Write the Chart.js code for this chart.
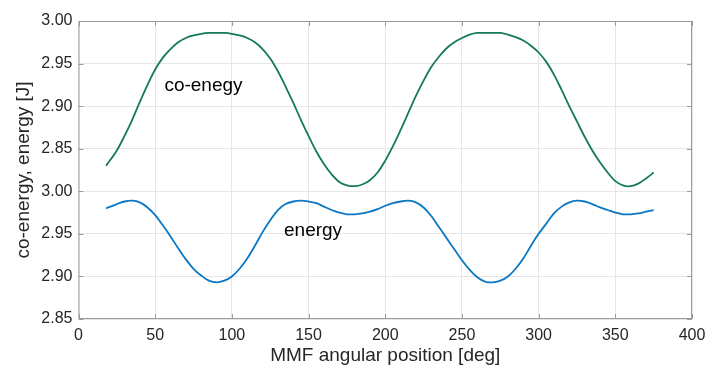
<!DOCTYPE html>
<html>
<head>
<meta charset="utf-8">
<script src="https://cdn.jsdelivr.net/npm/chart.js@4"></script>
<style>
  html, body { margin: 0; padding: 0; background: #fff; }
  #wrap { width: 707px; height: 367px; }
</style>
</head>
<body>
<div id="wrap"><canvas id="energyChart"></canvas></div>
<script>
// MMF angular position [deg]
const angles = [18, 25, 30, 35, 40, 45, 50, 55, 60, 65, 70, 75, 80, 85, 90, 95, 100, 105, 110,
  115, 120, 125, 130, 135, 140, 145, 150, 155, 160, 165, 170, 175, 180, 185, 190, 195, 200, 205, 210,
  215, 220, 225, 230, 235, 240, 245, 250, 255, 260, 265, 270, 275, 280, 285, 290, 295, 300, 305, 310,
  315, 320, 325, 330, 335, 340, 345, 350, 355, 360, 365, 370, 375];

// co-energy [J] (upper band of the axis)
const coEnergy = [2.830, 2.848, 2.865, 2.884, 2.905, 2.925, 2.943, 2.957, 2.967, 2.975, 2.980, 2.983, 2.985, 2.986, 2.986, 2.986, 2.985, 2.983, 2.980,
  2.975, 2.967, 2.956, 2.941, 2.923, 2.904, 2.884, 2.865, 2.847, 2.832, 2.820, 2.811, 2.807, 2.806, 2.808, 2.813, 2.822, 2.836, 2.853, 2.872,
  2.892, 2.912, 2.930, 2.946, 2.958, 2.968, 2.975, 2.980, 2.984, 2.986, 2.986, 2.986, 2.986, 2.984, 2.981, 2.977, 2.971, 2.963, 2.952, 2.937,
  2.919, 2.900, 2.882, 2.864, 2.848, 2.834, 2.822, 2.812, 2.807, 2.806, 2.809, 2.815, 2.822];

// energy [J] (lower band of the axis)
const energy = [2.980, 2.985, 2.988, 2.989, 2.987, 2.981, 2.972, 2.960, 2.947, 2.933, 2.920, 2.909, 2.901, 2.895, 2.893, 2.895, 2.900, 2.909, 2.921,
  2.936, 2.952, 2.966, 2.978, 2.985, 2.988, 2.989, 2.988, 2.986, 2.982, 2.978, 2.975, 2.973, 2.973, 2.974, 2.976, 2.979, 2.983, 2.986, 2.988,
  2.989, 2.987, 2.981, 2.971, 2.958, 2.945, 2.932, 2.919, 2.908, 2.899, 2.894, 2.893, 2.895, 2.900, 2.909, 2.921, 2.936, 2.950, 2.962, 2.974,
  2.982, 2.987, 2.989, 2.988, 2.985, 2.981, 2.978, 2.975, 2.973, 2.973, 2.974, 2.976, 2.978];

// y tick labels from bottom to top (energy band, then co-energy band)
const yTickLabels = ['2.85', '2.90', '2.95', '3.00', '2.85', '2.90', '2.95', '3.00'];

// in-plot text labels
const noteTexts = ['co-enegy', 'energy'];
const noteAngles = [56, 134];
const noteValues = [2.9235, 2.9535]; // co-energy band, energy band

// each band: value -> axis position
const bandBase = 2.85;
const bandStep = 0.05;
const coEnergyOffset = 4;

function toAxis(v, offset) {
    return (v - bandBase) / bandStep + offset;
}

const coEnergyPoints = angles.map((a, i) => ({ x: a, y: toAxis(coEnergy[i], coEnergyOffset) }));
const energyPoints = angles.map((a, i) => ({ x: a, y: toAxis(energy[i], 0) }));

const boxColor = '#9a9a9a';
const textColor = '#262626';
const fontFamily = '"Liberation Sans", Arial, Helvetica, sans-serif';

// draws the box round the plot, inward tick marks and the text labels
const boxAndNotes = {
    id: 'boxAndNotes',
    afterDraw(chart) {
        const { ctx, chartArea: area, scales } = chart;
        const xs = scales.x, ys = scales.y;
        const tl = 5;
        ctx.save();
        ctx.strokeStyle = boxColor;
        ctx.lineWidth = 1;
        ctx.beginPath();
        ctx.rect(area.left + 0.5, area.top + 0.5, area.right - area.left - 1, area.bottom - area.top - 1);
        xs.ticks.forEach(t => {
            const px = Math.round(xs.getPixelForValue(t.value)) + 0.5;
            ctx.moveTo(px, area.bottom); ctx.lineTo(px, area.bottom - tl);
            ctx.moveTo(px, area.top); ctx.lineTo(px, area.top + tl);
        });
        ys.ticks.forEach(t => {
            const py = Math.round(ys.getPixelForValue(t.value)) + 0.5;
            ctx.moveTo(area.left, py); ctx.lineTo(area.left + tl, py);
            ctx.moveTo(area.right, py); ctx.lineTo(area.right - tl, py);
        });
        ctx.stroke();

        ctx.fillStyle = '#000';
        ctx.font = '19px ' + fontFamily;
        ctx.textAlign = 'left';
        ctx.textBaseline = 'middle';
        noteTexts.forEach((txt, i) => {
            const offset = i === 0 ? coEnergyOffset : 0;
            ctx.fillText(txt, xs.getPixelForValue(noteAngles[i]), ys.getPixelForValue(toAxis(noteValues[i], offset)));
        });
        ctx.restore();
    }
};

const ctx = document.getElementById('energyChart').getContext('2d');
new Chart(ctx, {
    type: 'line',
    data: {
        datasets: [{
            label: 'co-energy',
            data: coEnergyPoints,
            borderColor: '#147a58',
            borderWidth: 1.8,
            pointRadius: 0,
            fill: false,
            tension: 0.35
        }, {
            label: 'energy',
            data: energyPoints,
            borderColor: '#0a77c4',
            borderWidth: 1.8,
            pointRadius: 0,
            fill: false,
            tension: 0.35
        }]
    },
    options: {
        responsive: true,
        maintainAspectRatio: false,
        animation: false,
        layout: { padding: { left: 0, right: 15, top: 21, bottom: 0 } },
        plugins: {
            legend: { display: false },
            tooltip: { enabled: false }
        },
        scales: {
            x: {
                type: 'linear',
                min: 0,
                max: 400,
                afterFit(scale) {
                    scale.height = 48;
                    scale.paddingRight = 0;
                },
                ticks: {
                    stepSize: 50,
                    padding: 7,
                    color: textColor,
                    font: { family: fontFamily, size: 16 },
                    maxRotation: 0
                },
                grid: { color: '#e6e6e6', drawTicks: false },
                border: { display: false },
                title: {
                    display: true,
                    text: 'MMF angular position [deg]',
                    color: textColor,
                    font: { family: fontFamily, size: 19 },
                    padding: { top: 0, bottom: 0 }
                }
            },
            y: {
                type: 'linear',
                min: 0,
                max: 7,
                afterFit(scale) { scale.width = 78.5; },
                ticks: {
                    stepSize: 1,
                    padding: 6,
                    color: textColor,
                    font: { family: fontFamily, size: 16 },
                    callback: function(value) {
                        return yTickLabels[value];
                    }
                },
                grid: { color: '#e6e6e6', drawTicks: false },
                border: { display: false },
                title: {
                    display: true,
                    text: 'co-energy, energy [J]',
                    color: textColor,
                    font: { family: fontFamily, size: 19 },
                    padding: { top: 12, bottom: 0 }
                }
            }
        }
    },
    plugins: [boxAndNotes]
});
</script>
</body>
</html>
